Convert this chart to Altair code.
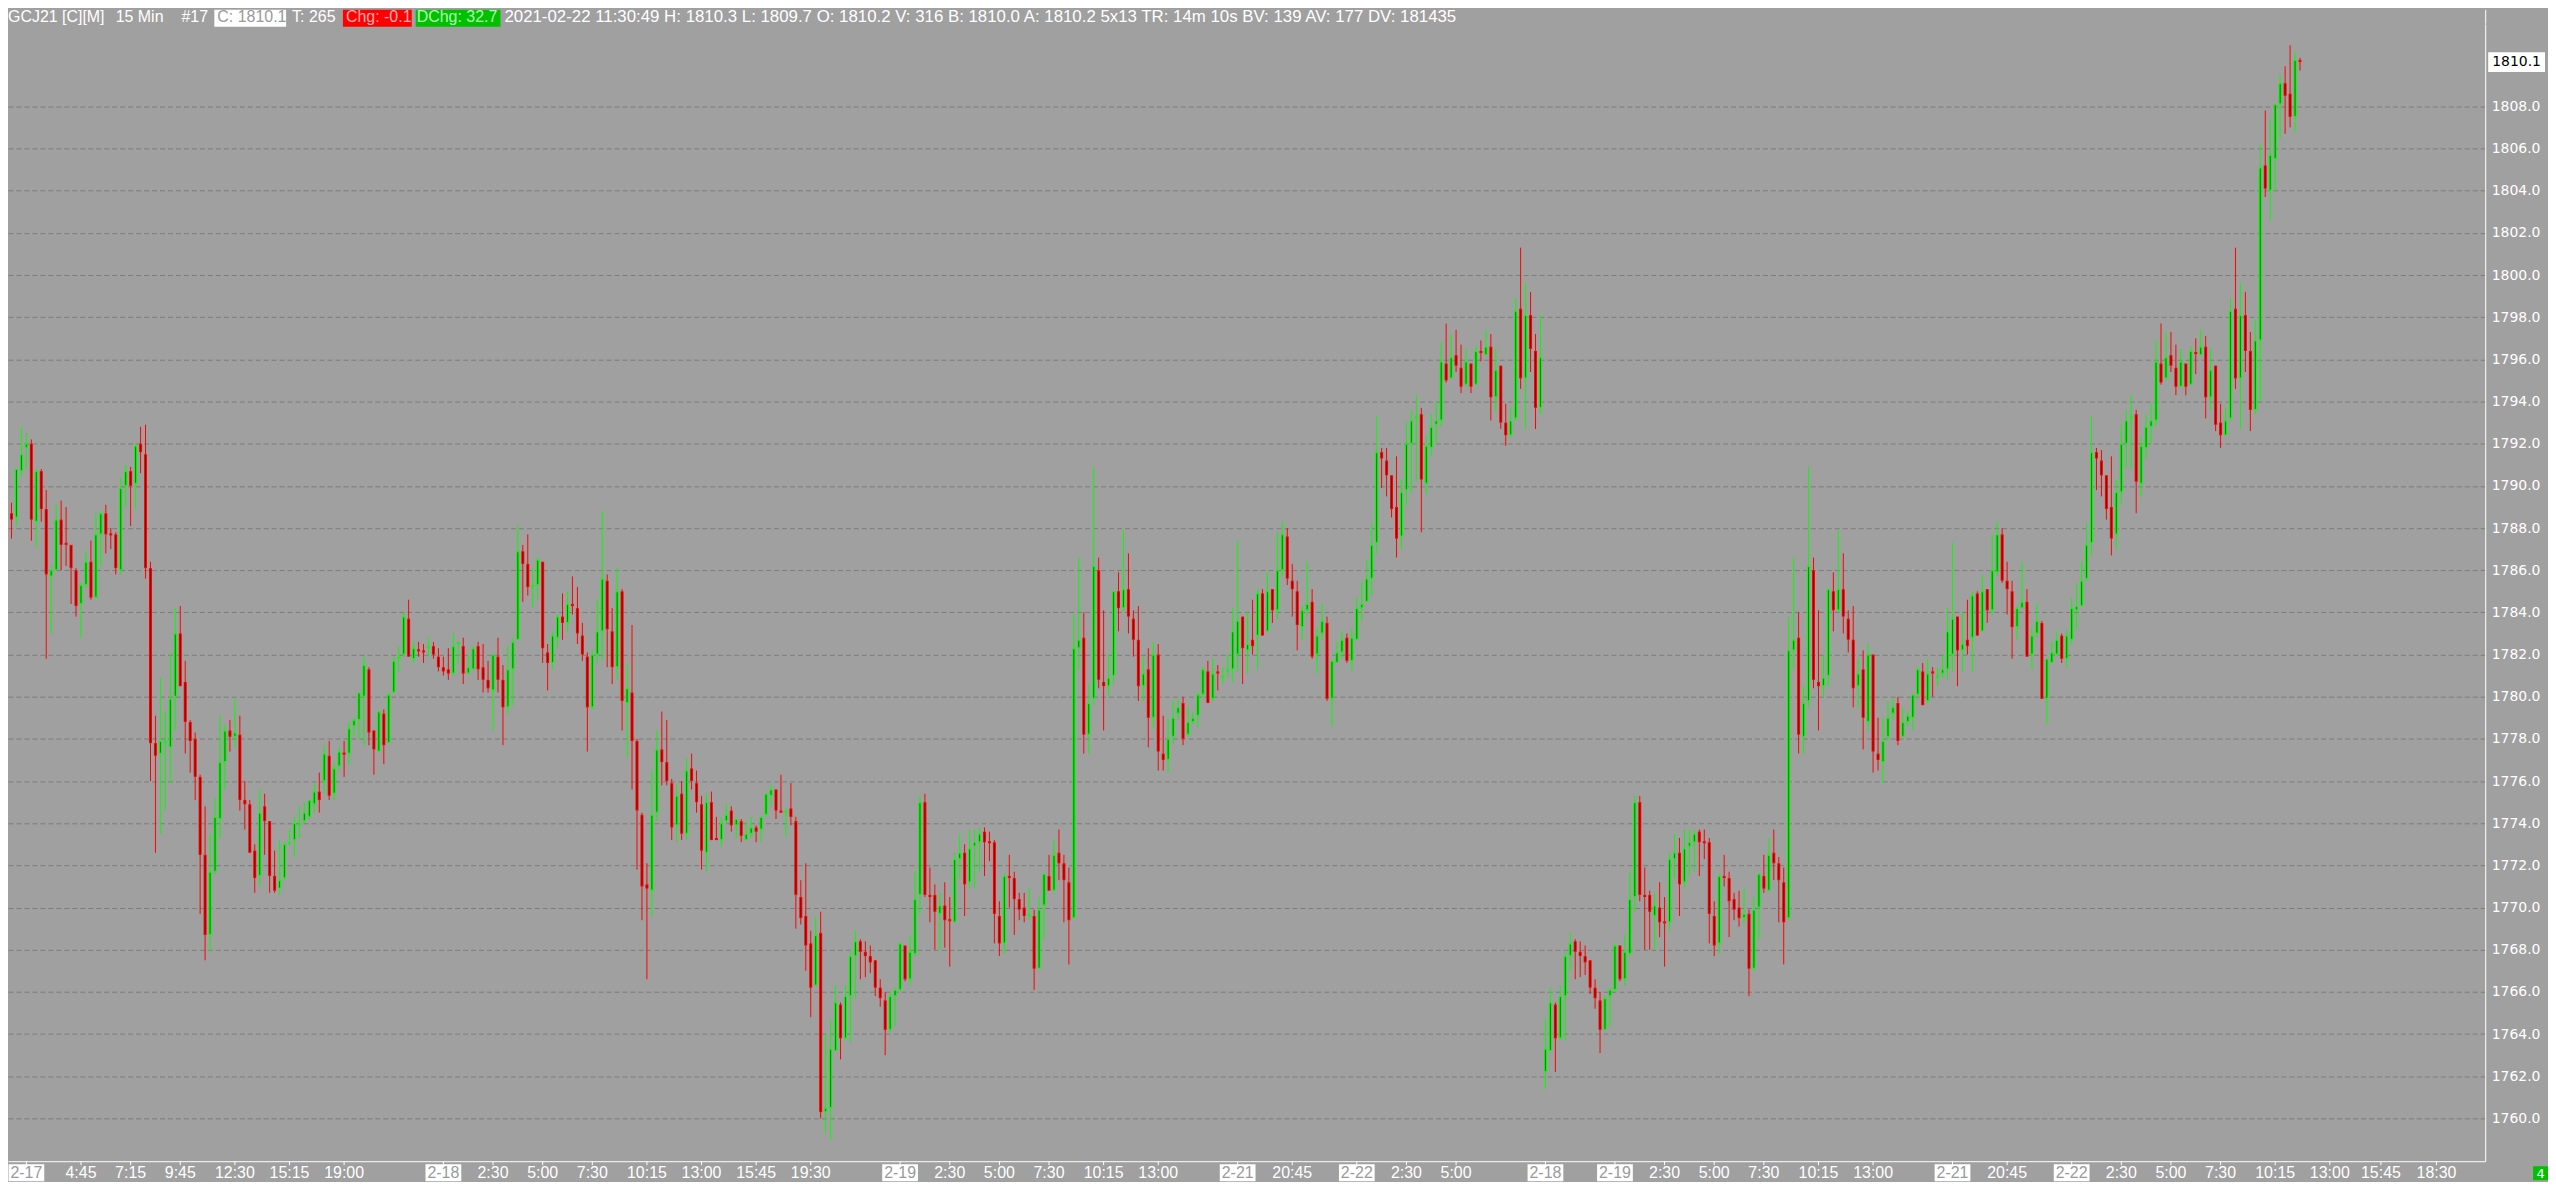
import altair as alt
import pandas as pd

# ---- OHLC values, (open, high, low, close) per 15-min bar ----
feb17 = [
    (1788.7,1789.2,1787.5,1788.4),(1788.5,1790.8,1788.1,1790.8),(1790.7,1792.8,1790.4,1791.5),
    (1791.8,1792.5,1790.8,1792.0),(1792.0,1792.2,1787.4,1788.4),(1788.3,1790.8,1787.1,1790.7),
    (1790.7,1790.8,1788.3,1788.9),(1788.9,1789.8,1781.8,1785.8),(1785.7,1786.2,1783.0,1786.0),
    (1786.0,1789.1,1786.0,1788.4),(1788.4,1789.3,1786.0,1787.2),(1787.3,1789.0,1786.2,1787.2),
    (1787.2,1787.2,1784.4,1786.1),(1786.0,1786.1,1783.8,1784.3),(1784.4,1785.4,1782.8,1785.3),
    (1785.3,1786.9,1785.2,1786.4),(1786.4,1787.4,1784.6,1784.7),(1784.7,1788.7,1784.7,1787.7),
    (1787.7,1788.8,1786.2,1788.7),(1788.7,1789.1,1786.8,1787.7),(1787.75,1788.0,1787.0,1787.65),
    (1787.7,1787.8,1785.8,1786.1),(1786.0,1790.4,1785.8,1789.9),(1790.0,1791.0,1789.0,1790.7),
    (1790.7,1790.9,1788.1,1790.0),(1790.1,1792.0,1788.9,1791.9),(1792.0,1792.8,1790.6,1791.6),
    (1791.5,1792.9,1785.6,1786.1),(1786.1,1786.4,1776.0,1777.8),(1777.8,1779.1,1772.6,1777.2),
    (1777.3,1780.9,1773.5,1777.9),(1777.8,1779.3,1774.6,1777.9),(1777.6,1782.1,1775.9,1779.9),
    (1780.0,1784.2,1778.4,1783.0),(1783.0,1784.3,1780.5,1780.5),(1780.7,1781.7,1777.3,1778.8),
    (1778.8,1778.9,1776.4,1777.9),(1778.0,1778.3,1775.1,1776.2),(1776.2,1776.3,1769.7,1772.5),
    (1772.5,1774.8,1767.5,1768.7),(1768.7,1773.5,1767.9,1771.7),(1771.7,1775.2,1771.6,1774.3),
    (1774.2,1779.1,1773.3,1776.9),(1776.9,1778.7,1775.6,1778.4),(1778.4,1778.9,1777.4,1778.1),
    (1778.1,1779.9,1777.6,1778.3),(1778.2,1779.1,1774.6,1775.1),(1775.1,1776.0,1773.7,1774.9),
    (1774.9,1775.1,1772.6,1772.6),(1772.7,1773.0,1770.7,1771.4),(1771.5,1775.6,1771.0,1774.5),
    (1774.8,1775.4,1772.5,1774.1),(1774.1,1774.1,1770.7,1771.5),(1771.5,1772.7,1770.7,1770.8),
    (1770.9,1773.2,1770.6,1771.3),(1771.4,1773.1,1771.3,1773.0),(1773.0,1773.7,1773.0,1773.1),
    (1773.2,1774.3,1772.4,1774.0),(1773.9,1774.8,1773.3,1774.0),(1774.1,1775.0,1774.0,1774.5),
    (1774.3,1775.1,1774.2,1775.1),(1774.9,1775.9,1774.5,1775.5),(1775.5,1776.4,1774.5,1775.1),
    (1776.0,1777.7,1775.4,1777.3),(1777.2,1777.9,1775.1,1775.3),(1775.4,1776.9,1775.1,1776.6),
    (1776.7,1777.6,1776.5,1777.4),(1777.35,1777.9,1776.2,1777.25),(1777.3,1778.8,1776.8,1778.5),
    (1778.6,1779.0,1778.1,1778.9),(1778.9,1780.2,1778.0,1780.2),(1780.0,1781.9,1777.7,1781.5),
    (1781.3,1781.4,1777.7,1778.3),(1778.4,1778.4,1776.3,1777.5),(1777.4,1779.3,1777.4,1779.3),
    (1779.2,1779.4,1776.8,1777.7),(1777.8,1780.2,1777.8,1780.1),(1780.2,1781.9,1780.2,1781.7),
    (1781.8,1782.4,1781.2,1781.9),(1782.0,1784.0,1781.9,1783.8),(1783.7,1784.6,1781.9,1781.9),
    (1781.8,1782.6,1781.6,1782.3),(1782.25,1782.6,1781.9,1782.15),(1782.2,1782.5,1781.6,1782.1),
    (1782.3,1782.8,1781.9,1782.4),(1782.4,1782.6,1781.8,1782.0),(1781.9,1782.3,1781.2,1781.4),
]
feb18 = [
    (1781.4,1781.9,1781.0,1781.2),(1781.3,1782.3,1780.8,1781.1),(1781.1,1783.0,1781.0,1782.4),
    (1782.5,1782.6,1781.6,1782.6),(1782.4,1782.8,1780.6,1781.1),(1781.1,1782.0,1781.1,1781.4),
    (1781.3,1782.4,1781.3,1782.3),(1782.4,1782.6,1780.8,1781.3),(1781.4,1782.5,1780.2,1780.8),
    (1780.8,1781.7,1780.2,1780.4),(1780.3,1782.0,1778.4,1782.0),(1781.9,1782.8,1780.2,1780.8),
    (1780.8,1781.5,1777.7,1779.5),(1779.5,1782.4,1779.2,1781.3),(1781.3,1782.8,1779.6,1782.6),
    (1782.7,1788.1,1782.7,1786.9),(1786.9,1787.2,1784.5,1786.3),(1786.3,1787.7,1784.8,1785.2),
    (1785.2,1786.1,1784.2,1785.3),(1785.3,1786.6,1784.6,1786.5),(1786.4,1786.4,1781.6,1782.3),
    (1782.1,1782.5,1780.3,1781.6),(1781.6,1783.1,1781.3,1782.9),(1782.8,1783.9,1782.3,1783.8),
    (1783.8,1784.9,1782.7,1783.5),(1783.5,1785.0,1783.1,1784.4),(1784.4,1785.7,1783.9,1784.3),
    (1784.2,1785.2,1782.5,1783.0),(1782.9,1783.5,1781.7,1782.0),(1781.9,1782.1,1777.4,1779.5),
    (1779.5,1782.2,1779.4,1782.0),(1782.0,1784.6,1781.6,1783.1),(1783.1,1788.8,1781.7,1785.6),
    (1785.5,1785.8,1781.4,1783.2),(1783.1,1784.2,1780.6,1781.4),(1781.4,1786.1,1780.8,1785.0),
    (1785.0,1785.1,1778.4,1779.8),(1779.7,1781.6,1777.1,1780.4),(1780.2,1783.4,1775.6,1777.9),
    (1777.9,1778.0,1771.8,1774.6),(1774.4,1774.5,1769.4,1771.0),(1771.1,1772.1,1766.6,1770.9),
    (1770.8,1776.5,1769.6,1774.4),(1774.5,1778.4,1774.1,1777.5),(1777.5,1779.3,1775.8,1776.9),
    (1776.9,1778.9,1775.8,1776.0),(1775.9,1776.1,1773.2,1773.8),(1773.9,1775.8,1773.1,1775.3),
    (1775.4,1776.0,1773.2,1773.5),(1773.5,1777.1,1773.2,1776.5),(1776.6,1777.3,1775.6,1776.0),
    (1775.9,1776.5,1774.5,1775.0),(1774.9,1775.3,1771.8,1772.7),(1772.6,1775.4,1771.7,1775.0),
    (1775.0,1775.5,1773.2,1773.2),(1773.3,1774.3,1773.2,1773.2),(1773.2,1774.3,1772.9,1774.0),
    (1774.1,1774.9,1774.0,1774.4),(1774.6,1774.8,1773.6,1773.9),(1773.9,1774.2,1773.3,1774.2),
    (1774.1,1774.2,1773.1,1773.4),(1773.2,1774.1,1773.2,1773.5),(1773.5,1774.3,1773.3,1773.8),
    (1773.8,1773.9,1773.1,1773.6),(1773.7,1774.3,1773.1,1774.3),(1774.4,1775.4,1774.3,1775.4),
    (1775.3,1775.8,1774.8,1775.6),(1775.6,1775.6,1774.2,1774.6),(1774.6,1776.3,1774.5,1774.5),
    (1774.5,1774.7,1773.4,1774.6),(1774.7,1775.9,1773.9,1774.3),(1774.1,1774.3,1769.0,1770.6),
    (1770.5,1771.3,1769.2,1769.5),(1769.6,1772.1,1767.0,1768.2),(1768.3,1768.9,1764.8,1766.2),
    (1766.3,1769.6,1766.3,1768.7),(1768.8,1769.8,1760.0,1760.3),(1760.3,1764.0,1759.3,1760.5),
    (1760.5,1764.7,1759.0,1763.3),(1763.2,1766.3,1763.2,1765.5),(1765.4,1765.5,1762.8,1763.8),
    (1763.8,1766.3,1763.7,1765.8),(1765.8,1768.0,1763.6,1767.7),(1767.7,1768.9,1765.7,1768.4),
    (1768.4,1768.5,1766.6,1767.9),(1767.9,1768.4,1766.7,1767.7),(1767.7,1768.2,1766.9,1767.4),
    (1767.5,1767.5,1765.8,1766.2),(1766.2,1766.6,1765.3,1765.7),(1765.6,1766.0,1763.0,1764.2),
    (1764.2,1766.0,1764.1,1765.8),(1765.8,1766.2,1764.4,1766.1),
]
feb19 = [
    (1766.1,1768.3,1766.0,1768.3),(1768.2,1768.2,1766.5,1766.6),(1766.6,1768.7,1766.3,1767.9),
    (1767.8,1771.7,1767.7,1770.4),(1770.6,1775.3,1769.7,1775.0),(1775.0,1775.4,1770.5,1770.6),
    (1770.6,1771.9,1769.3,1770.5),(1770.6,1771.1,1768.0,1769.8),(1769.7,1770.7,1768.0,1770.1),
    (1770.1,1771.2,1768.1,1769.4),(1769.45,1770.5,1767.2,1769.35),(1769.3,1772.6,1769.3,1772.3),
    (1772.3,1773.5,1771.4,1772.6),(1772.6,1773.0,1769.6,1771.1),(1771.2,1773.7,1770.9,1772.8),
    (1772.9,1773.7,1770.9,1773.1),(1773.1,1773.8,1771.7,1773.5),(1773.6,1773.8,1771.5,1773.1),
    (1773.15,1773.6,1772.2,1773.05),(1773.1,1773.2,1768.3,1769.7),(1769.6,1770.3,1767.7,1768.3),
    (1768.3,1771.6,1767.8,1771.5),(1771.5,1772.5,1770.0,1771.4),(1771.4,1771.7,1768.7,1770.4),
    (1770.4,1770.7,1769.4,1769.9),(1770.0,1770.7,1769.3,1769.6),(1769.6,1770.9,1769.4,1769.7),
    (1769.6,1769.9,1766.1,1767.1),(1767.1,1770.5,1767.1,1769.9),(1770.1,1771.6,1768.5,1771.6),
    (1771.5,1772.5,1770.8,1770.8),(1770.8,1773.2,1770.8,1772.5),(1772.6,1773.7,1771.3,1772.1),
    (1772.1,1772.5,1769.3,1771.3),(1771.2,1771.9,1767.3,1769.4),(1769.5,1783.9,1769.5,1782.3),
    (1782.3,1786.6,1781.3,1782.7),(1782.8,1784.0,1777.3,1778.2),(1778.2,1780.6,1777.3,1779.7),
    (1779.9,1790.9,1779.6,1786.2),(1786.0,1786.6,1780.4,1780.8),(1780.7,1784.1,1778.4,1780.5),
    (1780.5,1782.0,1780.0,1780.9),(1781.0,1785.0,1780.6,1785.0),(1785.0,1785.9,1783.1,1784.2),
    (1784.2,1787.9,1784.0,1785.1),(1785.1,1786.8,1783.0,1783.8),(1783.7,1784.1,1781.9,1782.7),
    (1782.7,1784.3,1779.8,1780.5),(1780.5,1781.9,1779.8,1781.1),(1781.3,1782.3,1777.6,1779.0),
    (1779.0,1782.6,1778.5,1782.0),(1782.0,1782.5,1776.5,1777.4),(1777.3,1779.1,1776.5,1777.0),
    (1777.0,1779.0,1776.4,1778.0),(1778.1,1779.8,1777.8,1779.0),(1779.2,1779.9,1778.9,1779.5),
    (1779.7,1780.0,1777.7,1778.0),(1778.2,1779.5,1778.1,1778.8),(1778.8,1779.3,1778.7,1779.0),
    (1779.1,1780.2,1778.5,1780.1),(1780.1,1781.4,1779.9,1781.3),(1781.2,1781.7,1779.7,1779.7),
    (1779.9,1781.8,1779.8,1781.1),(1781.2,1781.5,1780.3,1781.1),(1780.9,1781.4,1780.6,1781.0),
    (1781.2,1782.0,1780.9,1781.3),(1781.3,1784.2,1780.7,1783.1),
]
feb21_22 = [
    (1782.0,1787.4,1781.2,1783.6),(1783.8,1783.8,1780.6,1782.3),(1782.2,1784.0,1781.1,1782.5),
    (1782.7,1784.6,1782.0,1782.4),(1782.9,1785.1,1781.3,1784.9),(1784.9,1785.1,1782.9,1782.9),
    (1783.1,1785.9,1783.1,1785.0),(1785.1,1785.1,1783.5,1784.1),(1784.1,1787.8,1783.7,1786.0),
    (1786.0,1788.3,1785.7,1787.7),(1787.6,1788.0,1785.3,1785.6),(1785.5,1786.3,1783.8,1785.1),
    (1785.0,1785.5,1782.2,1783.4),(1783.3,1784.3,1782.7,1784.1),(1784.1,1786.4,1783.8,1784.4),
    (1784.5,1785.1,1781.8,1781.9),(1782.0,1783.3,1781.1,1782.9),(1783.0,1784.4,1782.7,1783.6),
    (1783.5,1783.8,1779.8,1779.9),(1779.9,1781.7,1778.6,1781.7),(1781.6,1782.6,1781.6,1782.1),
    (1782.1,1783.1,1781.8,1782.7),(1782.8,1783.0,1781.6,1781.7),(1781.7,1783.2,1781.2,1782.8),
    (1782.7,1784.7,1782.7,1784.2),(1784.2,1785.4,1783.6,1784.4),(1784.5,1786.5,1784.5,1785.6),
    (1785.6,1788.2,1784.8,1787.2),(1787.3,1793.3,1786.8,1791.6),(1791.6,1791.8,1789.9,1791.3),
    (1791.2,1791.8,1789.5,1790.5),(1790.5,1790.5,1788.5,1788.9),(1789.0,1791.4,1786.6,1787.5),
    (1787.6,1790.3,1787.0,1789.7),(1789.8,1793.0,1789.1,1792.0),(1792.0,1793.6,1789.7,1793.1),
    (1793.2,1794.3,1790.2,1793.3),(1793.4,1793.7,1787.8,1790.3),(1790.1,1792.4,1789.6,1791.9),
    (1791.8,1793.4,1791.4,1792.8),(1792.9,1794.0,1792.0,1793.1),(1793.1,1796.8,1792.8,1795.9),
    (1795.8,1797.7,1794.9,1795.0),(1795.1,1797.2,1795.1,1796.1),(1796.2,1797.4,1795.4,1795.7),
    (1795.6,1796.7,1794.4,1794.7),(1794.8,1796.5,1794.7,1795.9),(1795.8,1795.8,1794.4,1794.7),
    (1794.8,1796.6,1794.8,1796.4),(1796.4,1796.9,1795.9,1796.3),(1796.2,1797.4,1796.2,1796.6),
    (1796.6,1797.2,1793.1,1794.2),(1794.2,1796.5,1793.5,1795.5),(1795.7,1795.7,1792.7,1793.0),
    (1793.0,1793.9,1791.9,1792.4),(1792.4,1793.7,1792.3,1793.1),(1793.2,1798.9,1793.1,1798.3),
    (1798.4,1801.3,1794.6,1795.1),(1795.1,1799.6,1792.7,1798.1),(1798.1,1799.2,1795.4,1796.5),
    (1796.4,1797.2,1792.7,1793.7),(1793.7,1798.1,1793.4,1796.1),
]
rerun_feb18_19 = [
    (1762.2,1764.7,1761.4,1763.3),(1763.2,1766.2,1763.2,1765.5),(1765.4,1765.5,1762.2,1763.8),
    (1763.8,1766.3,1763.7,1765.8),(1765.8,1767.9,1763.7,1767.7),(1767.7,1768.8,1767.0,1768.3),
    (1768.4,1768.5,1766.6,1767.9),(1767.9,1768.4,1766.7,1767.7),(1767.7,1768.2,1766.8,1767.4),
    (1767.5,1767.5,1765.9,1766.2),(1766.2,1766.6,1765.2,1765.7),(1765.6,1766.0,1763.1,1764.2),
    (1764.2,1765.8,1764.2,1765.7),(1765.8,1766.2,1764.4,1766.1),(1766.1,1768.3,1766.0,1768.2),
    (1768.2,1768.2,1766.5,1766.6),(1766.6,1768.7,1766.3,1767.9),(1767.8,1771.7,1767.7,1770.4),
    (1770.5,1775.3,1769.8,1775.0),(1775.0,1775.3,1770.3,1770.6),(1770.6,1771.9,1768.0,1770.5),
    (1770.6,1770.8,1768.0,1769.8),(1769.6,1770.7,1768.0,1770.1),(1770.0,1771.2,1768.6,1769.3),
    (1769.35,1770.5,1767.2,1769.25),(1769.3,1772.6,1768.9,1772.3),(1772.3,1773.5,1771.4,1772.6),
    (1772.6,1773.3,1769.6,1771.1),(1771.2,1773.7,1770.9,1772.8),(1772.9,1773.7,1771.5,1773.1),
    (1773.1,1773.7,1771.7,1773.5),(1773.6,1773.7,1771.5,1773.1),(1773.15,1773.7,1772.3,1773.05),
    (1773.1,1773.3,1768.3,1769.7),(1769.6,1770.3,1767.7,1768.2),(1768.3,1771.6,1767.8,1771.5),
    (1771.5,1772.5,1771.0,1771.4),(1771.4,1771.7,1768.6,1770.3),(1770.4,1770.7,1769.4,1769.9),
    (1770.0,1770.8,1769.1,1769.5),(1769.5,1770.9,1769.2,1769.7),(1769.7,1769.9,1765.8,1767.1),
    (1767.1,1770.5,1767.0,1769.9),(1770.0,1771.6,1768.5,1771.6),(1771.5,1772.5,1770.7,1770.9),
    (1770.8,1773.3,1770.8,1772.5),(1772.6,1773.7,1771.3,1772.1),(1772.1,1772.4,1769.3,1771.3),
    (1771.2,1771.9,1767.3,1769.3),(1769.5,1783.8,1769.4,1782.2),(1782.2,1786.6,1781.3,1782.7),
    (1782.8,1784.0,1777.3,1778.2),(1778.1,1780.5,1777.3,1779.7),(1779.8,1790.9,1779.5,1786.2),
    (1786.0,1786.6,1780.4,1780.8),(1780.7,1784.1,1778.4,1780.5),(1780.5,1782.0,1780.0,1780.9),
    (1781.0,1785.1,1780.5,1785.1),(1785.0,1785.9,1783.1,1784.1),(1784.1,1787.9,1784.0,1785.1),
    (1785.1,1786.8,1783.0,1783.8),(1783.7,1784.1,1782.1,1782.7),(1782.7,1784.3,1779.5,1780.4),
    (1780.5,1781.8,1779.5,1781.1),(1781.3,1782.2,1777.5,1779.0),(1778.8,1782.5,1778.4,1782.0),
    (1782.0,1782.0,1776.4,1777.4),(1777.3,1779.0,1776.5,1777.0),(1776.9,1779.0,1775.9,1777.9),
    (1778.1,1779.8,1777.9,1779.0),(1779.2,1779.9,1778.9,1779.5),(1779.7,1780.0,1777.7,1777.9),
    (1778.1,1779.5,1778.1,1778.8),(1778.8,1779.3,1778.6,1779.1),(1779.0,1780.1,1778.4,1780.1),
    (1780.1,1781.4,1779.9,1781.3),(1781.2,1781.6,1779.6,1779.6),(1779.8,1781.8,1779.7,1781.1),
    (1781.2,1781.4,1780.0,1781.1),(1780.9,1781.4,1780.5,1781.0),(1781.1,1782.0,1780.9,1781.3),
    (1781.3,1784.2,1780.8,1783.1),
]
rerun_feb21_22 = [
    (1782.0,1787.3,1781.2,1783.7),(1783.8,1783.8,1780.5,1782.2),(1782.2,1784.0,1781.2,1782.5),
    (1782.7,1784.6,1782.0,1782.4),(1782.8,1785.0,1781.2,1784.8),(1784.9,1785.0,1782.9,1782.9),
    (1783.1,1785.8,1783.1,1785.0),(1785.1,1785.1,1783.5,1784.1),(1784.1,1787.7,1783.9,1786.0),
    (1785.9,1788.3,1785.7,1787.7),(1787.7,1788.0,1785.4,1785.5),(1785.5,1786.4,1783.9,1785.1),
    (1785.0,1785.5,1781.8,1783.3),(1783.3,1784.3,1782.7,1784.2),(1784.2,1786.4,1784.2,1784.5),
    (1784.5,1785.1,1781.9,1781.9),(1782.0,1783.3,1781.3,1782.9),(1783.0,1784.4,1782.8,1783.6),
    (1783.5,1783.6,1779.9,1779.9),(1779.9,1781.8,1778.7,1781.8),(1781.6,1782.6,1781.6,1782.1),
    (1782.0,1783.1,1781.9,1782.7),(1782.9,1783.0,1781.6,1781.8),(1781.8,1783.2,1781.4,1782.9),
    (1782.7,1784.7,1782.5,1784.2),(1784.1,1785.4,1783.2,1784.3),(1784.3,1786.4,1784.3,1785.5),
    (1785.6,1788.2,1785.5,1787.2),(1787.3,1793.3,1786.7,1791.6),(1791.6,1791.8,1789.8,1791.3),
    (1791.2,1791.7,1789.5,1790.5),(1790.5,1790.5,1788.4,1788.9),(1789.0,1791.4,1786.7,1787.5),
    (1787.7,1790.3,1787.0,1789.7),(1789.7,1792.9,1789.1,1792.0),(1792.0,1793.6,1790.9,1793.1),
    (1793.2,1794.3,1790.8,1793.3),(1793.4,1793.6,1788.7,1790.2),(1790.1,1792.3,1789.5,1791.9),
    (1791.8,1793.4,1791.3,1792.8),(1792.8,1793.9,1792.0,1793.1),(1793.1,1796.9,1792.8,1795.9),
    (1795.8,1797.7,1794.8,1794.9),(1795.1,1797.3,1795.0,1796.1),(1796.2,1797.3,1795.4,1795.7),
    (1795.6,1796.7,1794.3,1794.7),(1794.7,1796.5,1794.7,1795.9),(1795.8,1795.8,1794.3,1794.7),
    (1794.8,1796.6,1794.8,1796.4),(1796.35,1797.0,1795.3,1796.25),(1796.2,1797.4,1796.2,1796.6),
    (1796.6,1797.1,1793.2,1794.2),(1794.2,1796.5,1793.6,1795.5),(1795.7,1795.7,1792.6,1792.9),
    (1793.0,1793.9,1791.8,1792.4),(1792.4,1793.7,1792.4,1793.1),(1793.2,1798.9,1793.1,1798.3),
    (1798.4,1801.3,1794.6,1795.1),(1795.1,1799.6,1792.7,1798.1),(1798.1,1799.2,1795.4,1796.4),
    (1796.4,1797.3,1792.6,1793.6),(1793.6,1797.9,1793.4,1796.9),(1796.9,1806.2,1794.0,1805.1),
    (1805.2,1807.8,1803.7,1804.1),(1804.0,1807.4,1802.6,1805.7),(1805.5,1808.1,1804.0,1808.1),
    (1808.1,1809.5,1806.5,1809.1),(1809.1,1809.9,1806.7,1808.5),(1808.6,1810.9,1807.0,1807.5),
    (1807.5,1810.6,1806.8,1810.2),(1810.2,1810.3,1809.7,1810.1),
]

# time-axis labels: bar index and text
tick_pos = [4, 15, 25, 35, 46, 57, 68, 88, 98, 108, 118, 129, 140, 151, 162,
            180, 190, 200, 210, 221, 232, 248, 259, 272, 282, 292, 310,
            324, 334, 344, 354, 365, 376, 392, 403, 416, 426, 436, 446, 457, 468, 478.3, 489.5]
tick_text = ["2-17", "4:45", "7:15", "9:45", "12:30", "15:15", "19:00",
             "2-18", "2:30", "5:00", "7:30", "10:15", "13:00", "15:45", "19:30",
             "2-19", "2:30", "5:00", "7:30", "10:15", "13:00", "2-21", "20:45",
             "2-22", "2:30", "5:00", "2-18", "2-19", "2:30", "5:00", "7:30", "10:15", "13:00",
             "2-21", "20:45", "2-22", "2:30", "5:00", "7:30", "10:15", "13:00", "15:45", "18:30"]

price_ticks = list(range(1760, 1810, 2))
last_price = 1810.1

# ---------------- build table ----------------
rows = []
n = 0
for sess in [feb17, feb18, feb19, feb21_22, rerun_feb18_19, rerun_feb21_22]:
    for o, h, l, c in sess:
        n += 1
        top, bot = max(o, c), min(o, c)
        if top - bot < 0.07:
            bot = top - 0.07
        up = c >= o
        rows.append(dict(idx=n, open=o, high=h, low=l, close=c,
                         btop=top, bbot=bot, ctop=top - 0.05, cbot=bot + 0.05,
                         dir="up" if up else "down", cdir="upc" if up else "downc"))
df = pd.DataFrame(rows)
ticks = pd.DataFrame({"pos": tick_pos, "label": tick_text})
ticks["date"] = ticks["label"].str.contains("-")
ticks["lo"] = ticks["pos"] - 3.6
ticks["hi"] = ticks["pos"] + 3.6

W, H = 2485, 1141
xscale = alt.Scale(domain=[1.3, 1.3 + W / 5.0], nice=False, zero=False)
yscale = alt.Scale(domain=[1757.97, 1811.915], nice=False, zero=False)
xaxis = alt.Axis(labels=False, ticks=False, grid=False, domainColor="#ffffff", domainWidth=1)
yaxis = alt.Axis(orient="right", values=price_ticks, format=".1f", labelFont="DejaVu Sans",
                 labelFontSize=14, labelColor="#ffffff", ticks=False, labelPadding=6,
                 domainColor="#ffffff", domainWidth=1, grid=True, gridColor="#7b7b7b",
                 gridDash=[5, 3], gridWidth=1, labelOverlap=False)
cscale = alt.Scale(domain=["up", "down", "upc", "downc"],
                   range=["#00ff00", "#ff0000", "#007a00", "#8a0000"])


def X(f):
    return alt.X(f"{f}:Q", scale=xscale, axis=xaxis, title=None)


def Y(f):
    return alt.Y(f"{f}:Q", scale=yscale, axis=yaxis, title=None)


base = alt.Chart(df)
wicks = base.mark_rule(strokeWidth=1).encode(
    x=X("idx"), y=Y("low"), y2="high",
    color=alt.Color("dir:N", scale=cscale, legend=None))
bodies = base.mark_bar(size=3).encode(
    x=X("idx"), y=Y("btop"), y2="bbot",
    color=alt.Color("dir:N", scale=cscale, legend=None))
centers = base.transform_filter("datum.btop - datum.bbot > 0.15").mark_rule(strokeWidth=1).encode(
    x=X("idx"), y=Y("ctop"), y2="cbot",
    color=alt.Color("cdir:N", scale=cscale, legend=None))

tk = alt.Chart(ticks)
tick_marks = tk.mark_rule(color="#ffffff").encode(x=X("pos"), y=alt.value(H), y2=alt.value(H + 4))
date_boxes = tk.transform_filter("datum.date").mark_rect(color="#ffffff").encode(
    x=X("lo"), x2="hi", y=alt.value(H + 3), y2=alt.value(H + 20))
tick_labels = tk.mark_text(font="Liberation Sans", fontSize=16, baseline="alphabetic", align="center").encode(
    x=X("pos"), y=alt.value(H + 17), text="label:N",
    color=alt.condition("datum.date", alt.value("#9a9a9a"), alt.value("#ffffff")))

lp = pd.DataFrame({"p": [last_price]})
lp["lo"] = lp["p"] - 0.47
lp["hi"] = lp["p"] + 0.47
lpc = alt.Chart(lp)
lp_box = lpc.mark_rect(color="#ffffff").encode(x=alt.value(W + 3), x2=alt.value(W + 60), y=Y("lo"), y2="hi")
lp_text = lpc.mark_text(font="DejaVu Sans", fontSize=14, color="#000000", align="center",
                        baseline="middle").encode(x=alt.value(W + 31.5), y=Y("p"), text=alt.Text("p:Q", format=".1f"))

one = alt.Chart(pd.DataFrame({"a": [0]}))
layers = [wicks, bodies, centers, tick_marks, date_boxes, tick_labels, lp_box, lp_text]

# header line
layers.append(one.mark_rule(color="#ffffff").encode(x=alt.value(W + 0.5), y=alt.value(-14), y2=alt.value(0)))
hdr_boxes = [(207, 279, "#ffffff"), (336, 405, "#ff0000"), (409, 494, "#00c000")]
for x0, x1, col in hdr_boxes:
    layers.append(one.mark_rect(color=col).encode(x=alt.value(x0), x2=alt.value(x1),
                                                  y=alt.value(-14), y2=alt.value(3)))
hdr_text = [
    (0, "GCJ21 [C][M]", "#ffffff", 16), (108, "15 Min", "#ffffff", 16), (174, "#17", "#ffffff", 16),
    (210, "C: 1810.1", "#9a9a9a", 16), (285, "T: 265", "#ffffff", 16), (339, "Chg: -0.1", "#ffb0b0", 16),
    (410, "DChg: 32.7", "#b0ffb0", 16),
    (498, "2021-02-22 11:30:49 H: 1810.3 L: 1809.7 O: 1810.2 V: 316 B: 1810.0 A: 1810.2 "
          "5x13 TR: 14m 10s BV: 139 AV: 177 DV: 181435", "#ffffff", 16.9),
]
for x0, txt, col, fs in hdr_text:
    layers.append(one.mark_text(font="Liberation Sans", fontSize=fs, align="left", baseline="alphabetic",
                                color=col, text=txt).encode(x=alt.value(x0), y=alt.value(-2)))

# green counter box bottom-right
layers.append(one.mark_rect(color="#00c000").encode(x=alt.value(W + 48), x2=alt.value(W + 63),
                                                    y=alt.value(H + 5), y2=alt.value(H + 19)))
layers.append(one.mark_text(font="DejaVu Sans", fontSize=13, color="#ffffff", align="center",
                            baseline="alphabetic", text="4").encode(x=alt.value(W + 55.5), y=alt.value(H + 17)))

chart = alt.layer(*layers).properties(
    width=W, height=H, autosize="none",
    padding={"left": 0, "top": 14, "right": 63, "bottom": 19},
).configure(background="#a0a0a0").configure_view(strokeWidth=0)

chart.save("out.html", embed_options={"renderer": "svg", "actions": False})
